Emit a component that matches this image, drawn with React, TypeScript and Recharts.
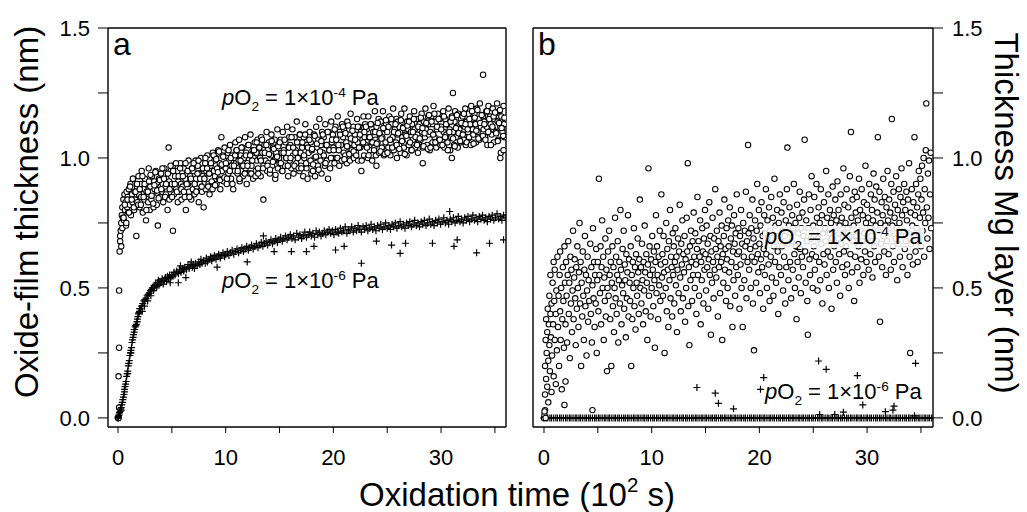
import React from "react";
import { ScatterChart, Scatter, XAxis, YAxis } from "recharts";

// tick values shared by both panels
const X_TICKS = [0, 5, 10, 15, 20, 25, 30, 35];
const X_LABELS = [0, 10, 20, 30];
const Y_TICKS = [0, 0.25, 0.5, 0.75, 1.0, 1.25, 1.5];
const Y_LABELS = [0, 0.5, 1.0, 1.5];

// panel a, pO2 = 1e-4 Pa (open circles)
const oxideHigh: number[][] = [
  [0,0.0],[0.05,0.0],[0.1,0.04],[0.05,0.16],[0.1,0.27],[0.1,0.49],[0.15,0.64],[0.2,0.68],[0.2,0.7],[0.25,0.72],[0.3,0.75],[0.3,0.66],[0.35,0.78],[0.4,0.73],[0.4,0.81],[0.45,0.77],
  [0.5,0.84],[0.55,0.76],[0.6,0.86],[0.65,0.8],[0.7,0.83],[0.75,0.74],[0.8,0.87],[0.85,0.81],[0.9,0.85],[0.95,0.79],
  [1.0,0.88],[1.1,0.82],[1.15,0.9],[1.2,0.78],[1.3,0.86],[1.35,0.83],[1.4,0.92],[1.5,0.8],[1.55,0.87],[1.6,0.84],[1.7,0.7],[1.75,0.89],[1.8,0.83],[1.9,0.93],[1.95,0.86],
  [2.0,0.81],[2.1,0.9],[2.15,0.85],[2.2,0.95],[2.3,0.79],[2.4,0.88],[2.45,0.84],[2.5,0.92],[2.6,0.76],[2.65,0.87],[2.7,0.9],[2.8,0.83],[2.85,0.96],[2.9,0.86],[2.95,0.8],
  [3.0,0.89],[3.1,0.84],[3.15,0.93],[3.2,0.87],[3.3,0.81],[3.35,0.91],[3.4,0.88],[3.5,0.95],[3.6,0.82],[3.65,0.9],[3.7,0.74],[3.75,0.86],[3.8,0.92],[3.9,0.85],[3.95,0.89],
  [4.0,0.94],[4.1,0.87],[4.15,0.9],[4.2,0.83],[4.3,0.96],[4.4,0.89],[4.45,0.86],[4.5,0.92],[4.6,0.8],[4.7,1.04],[4.75,0.91],[4.8,0.88],[4.9,0.95],[4.95,0.85],
  [5.0,0.9],[5.1,0.72],[5.1,0.97],[5.2,0.86],[5.3,0.93],[5.4,0.88],[5.5,0.95],[5.55,0.83],[5.6,0.91],[5.7,0.87],[5.8,0.98],[5.85,0.9],[5.9,0.84],[5.95,0.93],
  [6.0,0.89],[6.1,0.96],[6.2,0.85],[6.25,0.92],[6.3,0.8],[6.4,0.94],[6.5,0.9],[6.55,0.99],[6.6,0.87],[6.7,0.93],[6.8,0.84],[6.85,0.96],[6.9,0.91],[6.95,0.88],
  [7.0,0.95],[7.1,0.86],[7.2,0.99],[7.25,0.92],[7.3,0.89],[7.4,0.97],[7.5,0.83],[7.55,0.94],[7.6,0.9],[7.7,1.0],[7.8,0.87],[7.85,0.93],[7.9,0.96],[7.95,0.81],
  [8.0,0.92],[8.1,0.98],[8.15,0.88],[8.2,0.95],[8.3,1.01],[8.4,0.9],[8.45,0.94],[8.5,0.86],[8.6,0.97],[8.7,0.91],[8.8,1.02],[8.85,0.89],[8.9,0.95],[8.95,0.99],
  [9.0,0.93],[9.1,1.0],[9.15,0.9],[9.2,0.96],[9.3,1.03],[9.4,0.92],[9.45,0.98],[9.5,0.88],[9.6,1.08],[9.65,0.95],[9.7,1.01],[9.8,0.91],[9.85,0.97],[9.9,1.04],
  [10.0,0.96],[10.1,0.9],[10.2,1.02],[10.25,0.94],[10.3,0.99],[10.4,1.05],[10.5,0.92],[10.55,0.97],[10.6,1.01],[10.7,0.88],[10.8,1.0],[10.85,0.95],[10.9,1.06],[10.95,0.98],
  [11.0,1.03],[11.1,0.94],[11.2,0.99],[11.25,1.07],[11.3,0.91],[11.4,1.01],[11.5,0.97],[11.55,1.04],[11.6,0.93],[11.7,1.0],[11.8,1.08],[11.85,0.96],[11.9,1.02],[11.95,0.9],
  [12.0,0.98],[12.1,1.05],[12.2,0.94],[12.25,1.01],[12.3,1.09],[12.4,0.97],[12.5,1.03],[12.55,0.92],[12.6,1.0],[12.7,1.06],[12.8,0.95],[12.85,1.02],[12.9,0.99],[12.95,1.07],
  [13.0,0.96],[13.1,1.04],[13.2,1.0],[13.25,0.93],[13.3,1.08],[13.4,1.02],[13.5,0.84],[13.5,0.97],[13.6,1.05],[13.7,0.99],[13.8,1.1],[13.85,0.95],[13.9,1.03],[13.95,0.98],
  [14.0,1.06],[14.1,0.94],[14.2,1.01],[14.25,1.09],[14.3,0.97],[14.4,1.04],[14.5,0.99],[14.55,1.07],[14.6,0.92],[14.7,1.02],[14.8,1.11],[14.85,0.96],[14.9,1.05],[14.95,1.0],
  [15.0,0.98],[15.1,1.07],[15.2,1.02],[15.25,0.95],[15.3,1.1],[15.4,1.03],[15.5,0.97],[15.55,1.06],[15.6,1.0],[15.7,1.12],[15.8,0.93],[15.85,1.04],[15.9,1.08],[15.95,0.99],
  [16.0,1.05],[16.1,0.96],[16.2,1.11],[16.25,1.01],[16.3,0.94],[16.4,1.08],[16.5,1.03],[16.55,0.98],[16.6,1.14],[16.7,1.0],[16.8,1.06],[16.85,0.95],[16.9,1.09],[16.95,1.02],
  [17.0,0.97],[17.1,1.04],[17.2,0.93],[17.25,1.08],[17.3,1.0],[17.4,1.13],[17.5,0.96],[17.55,1.05],[17.6,0.92],[17.7,1.02],[17.8,1.1],[17.85,0.98],[17.9,1.06],[17.95,0.94],
  [18.0,1.03],[18.1,0.95],[18.2,1.09],[18.25,1.0],[18.3,0.93],[18.4,1.12],[18.5,1.04],[18.55,0.97],[18.6,1.07],[18.7,1.15],[18.8,0.99],[18.85,1.05],[18.9,0.94],[18.95,1.1],
  [19.0,1.02],[19.1,1.08],[19.2,0.97],[19.25,1.13],[19.3,1.05],[19.4,0.99],[19.5,0.92],[19.55,1.1],[19.6,1.03],[19.7,0.96],[19.8,1.14],[19.85,1.06],[19.9,1.0],[19.95,1.09],
  [20.0,1.04],[20.1,0.98],[20.2,1.12],[20.25,1.07],[20.3,1.0],[20.4,1.16],[20.5,1.03],[20.55,0.97],[20.6,1.1],[20.7,1.05],[20.8,1.13],[20.85,0.99],[20.9,1.08],[20.95,1.02],
  [21.0,1.11],[21.1,1.01],[21.2,1.06],[21.25,0.98],[21.3,1.14],[21.4,1.04],[21.5,1.09],[21.55,0.99],[21.6,1.17],[21.7,1.03],[21.8,1.07],[21.85,1.12],[21.9,1.0],[21.95,1.05],
  [22.0,1.09],[22.1,1.02],[22.2,1.15],[22.25,1.06],[22.3,0.99],[22.4,1.12],[22.5,1.04],[22.55,1.1],[22.6,0.95],[22.7,1.07],[22.8,1.16],[22.85,1.01],[22.9,1.08],[22.95,1.13],
  [23.0,1.05],[23.1,1.11],[23.2,1.0],[23.25,1.16],[23.3,1.08],[23.4,1.03],[23.5,1.13],[23.55,1.06],[23.6,0.99],[23.7,1.1],[23.8,1.04],[23.85,1.18],[23.9,1.07],[23.95,1.01],
  [24.0,0.97],[24.0,1.12],[24.1,1.06],[24.2,1.15],[24.25,1.02],[24.3,1.09],[24.4,1.14],[24.5,1.04],[24.55,1.08],[24.6,1.18],[24.7,1.01],[24.8,1.11],[24.85,1.06],[24.9,1.13],[24.95,1.03],
  [25.0,1.1],[25.1,1.04],[25.2,1.16],[25.25,1.07],[25.3,1.01],[25.4,1.13],[25.5,1.08],[25.55,1.19],[25.6,1.03],[25.7,1.11],[25.8,1.06],[25.85,1.15],[25.9,1.0],[25.95,1.09],
  [26.0,1.14],[26.1,1.05],[26.2,1.1],[26.25,1.02],[26.3,1.17],[26.4,1.08],[26.5,1.12],[26.55,1.04],[26.6,1.19],[26.7,1.09],[26.8,1.01],[26.85,1.14],[26.9,1.07],[26.95,1.11],
  [27.0,1.05],[27.1,1.16],[27.2,1.1],[27.25,1.03],[27.3,1.13],[27.4,1.07],[27.5,1.18],[27.55,1.11],[27.6,1.04],[27.7,1.15],[27.8,1.09],[27.85,1.02],[27.9,1.12],[27.95,1.06],
  [28.0,1.13],[28.1,1.07],[28.2,1.17],[28.25,1.1],[28.3,0.98],[28.3,1.04],[28.4,1.14],[28.5,1.08],[28.55,1.19],[28.6,1.11],[28.7,1.05],[28.8,1.16],[28.85,1.09],[28.9,1.13],[28.95,1.03],
  [29.0,1.1],[29.1,1.16],[29.2,1.06],[29.25,1.13],[29.3,1.2],[29.4,1.08],[29.5,1.14],[29.55,1.04],[29.6,1.11],[29.7,1.17],[29.8,1.07],[29.85,1.12],[29.9,1.15],[29.95,1.05],
  [30.0,1.12],[30.1,1.07],[30.2,1.18],[30.25,1.1],[30.3,1.04],[30.4,1.15],[30.5,1.09],[30.55,1.13],[30.6,1.06],[30.7,1.19],[30.8,1.11],[30.85,1.03],[30.9,1.14],[30.95,1.08],
  [31.0,1.0],[31.0,1.16],[31.1,1.25],[31.1,1.1],[31.2,1.05],[31.25,1.14],[31.3,1.18],[31.4,1.08],[31.5,1.12],[31.55,1.04],[31.6,1.17],[31.7,1.11],[31.8,1.06],[31.85,1.15],[31.9,1.09],[31.95,1.13],
  [32.0,1.16],[32.1,1.07],[32.2,1.12],[32.25,1.19],[32.3,1.05],[32.4,1.14],[32.5,1.1],[32.55,1.17],[32.6,1.08],[32.7,1.13],[32.8,1.2],[32.85,1.06],[32.9,1.15],[32.95,1.11],
  [33.0,1.09],[33.1,1.17],[33.2,1.13],[33.25,1.06],[33.3,1.19],[33.4,1.1],[33.5,1.15],[33.55,1.07],[33.6,1.21],[33.7,1.12],[33.8,1.08],[33.9,1.32],[33.9,1.16],[33.95,1.11],
  [34.0,1.14],[34.1,1.08],[34.2,1.18],[34.25,1.12],[34.3,1.05],[34.4,1.2],[34.5,1.1],[34.55,1.16],[34.6,1.13],[34.7,1.09],[34.8,1.19],[34.85,1.11],[34.9,1.06],[34.95,1.15],
  [35.0,1.17],[35.1,1.1],[35.2,1.21],[35.25,1.14],[35.3,1.07],[35.4,1.18],[35.5,1.12],[35.55,1.02],[35.6,1.16],[35.7,1.1],[35.8,1.2],[35.85,1.13],[35.9,1.08],[35.95,1.15],[35.5,1.0],[35.8,1.03],
];
// more circles of the same band, read between the ones above
const oxideHighFill: number[][] = [
  [0.52,0.77],[0.63,0.82],[0.77,0.75],[0.88,0.84],
  [1.02,0.79],[1.12,0.89],[1.27,0.84],[1.38,0.92],[1.47,0.81],[1.63,0.87],[1.77,0.9],[1.88,0.82],
  [2.02,0.88],[2.12,0.82],[2.27,0.93],[2.38,0.85],[2.47,0.9],[2.63,0.8],[2.77,0.87],[2.88,0.91],
  [3.02,0.935],[3.12,0.855],[3.27,0.825],[3.38,0.895],[3.47,0.945],[3.63,0.875],[3.77,0.845],[3.88,0.915],
  [4.02,0.88],[4.12,0.96],[4.27,0.92],[4.38,0.85],[4.47,0.9],[4.63,0.94],[4.77,0.84],[4.88,0.97],
  [5.02,0.85],[5.12,0.95],[5.27,0.9],[5.38,0.98],[5.47,0.87],[5.63,0.93],[5.77,0.96],[5.88,0.88],
  [6.02,0.93],[6.12,0.87],[6.27,0.98],[6.38,0.9],[6.47,0.95],[6.63,0.85],[6.77,0.92],[6.88,0.96],
  [7.02,0.98],[7.12,0.9],[7.27,0.87],[7.38,0.94],[7.47,0.99],[7.63,0.92],[7.77,0.89],[7.88,0.96],
  [8.02,0.92],[8.12,1.0],[8.27,0.96],[8.38,0.89],[8.47,0.94],[8.63,0.98],[8.77,0.88],[8.88,1.01],
  [9.02,0.895],[9.12,0.995],[9.27,0.945],[9.38,1.025],[9.47,0.915],[9.63,0.975],[9.77,1.005],[9.88,0.925],
  [10.02,0.98],[10.12,0.92],[10.27,1.03],[10.38,0.95],[10.47,1.0],[10.63,0.9],[10.77,0.97],[10.88,1.01],
  [11.02,1.03],[11.12,0.95],[11.27,0.92],[11.38,0.99],[11.47,1.04],[11.63,0.97],[11.77,0.94],[11.88,1.01],
  [12.02,0.97],[12.12,1.05],[12.27,1.01],[12.38,0.94],[12.47,0.99],[12.63,1.03],[12.77,0.93],[12.88,1.06],
  [13.02,0.94],[13.12,1.04],[13.27,0.99],[13.38,1.07],[13.47,0.96],[13.63,1.02],[13.77,1.05],[13.88,0.97],
  [14.02,1.015],[14.12,0.955],[14.27,1.065],[14.38,0.985],[14.47,1.035],[14.63,0.935],[14.77,1.005],[14.88,1.045],
  [15.02,1.06],[15.12,0.98],[15.27,0.95],[15.38,1.02],[15.47,1.07],[15.63,1.0],[15.77,0.97],[15.88,1.04],
  [16.02,1.0],[16.12,1.08],[16.27,1.04],[16.38,0.97],[16.47,1.02],[16.63,1.06],[16.77,0.96],[16.88,1.09],
  [17.02,0.96],[17.12,1.06],[17.27,1.01],[17.38,1.09],[17.47,0.98],[17.63,1.04],[17.77,1.07],[17.88,0.99],
  [18.02,1.035],[18.12,0.975],[18.27,1.085],[18.38,1.005],[18.47,1.055],[18.63,0.955],[18.77,1.025],[18.88,1.065],
  [19.02,1.09],[19.12,1.01],[19.27,0.98],[19.38,1.05],[19.47,1.1],[19.63,1.03],[19.77,1.0],[19.88,1.07],
  [20.02,1.03],[20.12,1.11],[20.27,1.07],[20.38,1.0],[20.47,1.05],[20.63,1.09],[20.77,0.99],[20.88,1.12],
  [21.02,0.995],[21.12,1.095],[21.27,1.045],[21.38,1.125],[21.47,1.015],[21.63,1.075],[21.77,1.105],[21.88,1.025],
  [22.02,1.07],[22.12,1.01],[22.27,1.12],[22.38,1.04],[22.47,1.09],[22.63,0.99],[22.77,1.06],[22.88,1.1],
  [23.02,1.12],[23.12,1.04],[23.27,1.01],[23.38,1.08],[23.47,1.13],[23.63,1.06],[23.77,1.03],[23.88,1.1],
  [24.02,1.055],[24.12,1.135],[24.27,1.095],[24.38,1.025],[24.47,1.075],[24.63,1.115],[24.77,1.015],[24.88,1.145],
  [25.02,1.02],[25.12,1.12],[25.27,1.07],[25.38,1.15],[25.47,1.04],[25.63,1.1],[25.77,1.13],[25.88,1.05],
  [26.02,1.095],[26.12,1.035],[26.27,1.145],[26.38,1.065],[26.47,1.115],[26.63,1.015],[26.77,1.085],[26.88,1.125],
  [27.02,1.14],[27.12,1.06],[27.27,1.03],[27.38,1.1],[27.47,1.15],[27.63,1.08],[27.77,1.05],[27.88,1.12],
  [28.02,1.075],[28.12,1.155],[28.27,1.115],[28.38,1.045],[28.47,1.095],[28.63,1.135],[28.77,1.035],[28.88,1.165],
  [29.02,1.04],[29.12,1.14],[29.27,1.09],[29.38,1.17],[29.47,1.06],[29.63,1.12],[29.77,1.15],[29.88,1.07],
  [30.02,1.11],[30.12,1.05],[30.27,1.16],[30.38,1.08],[30.47,1.13],[30.63,1.03],[30.77,1.1],[30.88,1.14],
  [31.02,1.155],[31.12,1.075],[31.27,1.045],[31.38,1.115],[31.47,1.165],[31.63,1.095],[31.77,1.065],[31.88,1.135],
  [32.02,1.09],[32.12,1.17],[32.27,1.13],[32.38,1.06],[32.47,1.11],[32.63,1.15],[32.77,1.05],[32.88,1.18],
  [33.02,1.055],[33.12,1.155],[33.27,1.105],[33.38,1.185],[33.47,1.075],[33.63,1.135],[33.77,1.165],[33.88,1.085],
  [34.02,1.13],[34.12,1.07],[34.27,1.18],[34.38,1.1],[34.47,1.15],[34.63,1.05],[34.77,1.12],[34.88,1.16],
  [35.02,1.175],[35.12,1.095],[35.27,1.065],[35.38,1.135],[35.47,1.185],[35.63,1.115],[35.77,1.085],[35.88,1.155],
];

// panel a, pO2 = 1e-6 Pa (crosses)
const oxideLow: number[][] = [
  [0,0],[0.02,0.005],[0.05,0.0],[0.08,0.01],[0.1,0.015],[0.15,0.02],[0.2,0.025],[0.25,0.035],[0.3,0.04],[0.35,0.05],[0.4,0.06],[0.45,0.07],[0.5,0.08],[0.55,0.09],[0.6,0.1],[0.65,0.12],[0.7,0.13],[0.75,0.14],[0.8,0.16],[0.85,0.17],[0.9,0.18],[0.95,0.2],
  [1.0,0.21],[1.05,0.22],[1.1,0.24],[1.15,0.25],[1.2,0.26],[1.25,0.27],[1.3,0.29],[1.35,0.3],[1.4,0.31],[1.45,0.32],[1.5,0.33],[1.55,0.34],[1.6,0.35],[1.65,0.355],[1.7,0.36],[1.75,0.37],[1.8,0.38],[1.85,0.39],[1.9,0.4],[1.95,0.405],[2.0,0.41],
  [0.3,0.03],[0.6,0.11],[0.9,0.17],[1.2,0.25],[1.5,0.34],[1.8,0.37],[2.0,0.42],
  [2.1,0.42],[2.2,0.43],[2.25,0.41],[2.3,0.44],[2.4,0.45],[2.45,0.43],[2.5,0.455],[2.6,0.46],[2.7,0.47],[2.75,0.45],[2.8,0.475],[2.9,0.48],[3.0,0.49],[3.05,0.47],[3.1,0.495],[3.2,0.5],[3.3,0.49],[3.35,0.51],[3.4,0.5],[3.5,0.515],[3.6,0.505],[3.7,0.52],[3.75,0.53],[3.8,0.51],[3.9,0.525],[4.0,0.52],[4.1,0.535],[4.2,0.515],[4.3,0.53],[4.4,0.54],[4.5,0.525],[4.6,0.545],[4.7,0.535],[4.8,0.55],[4.85,0.52],[4.9,0.54],[5.0,0.55],
  [5.1,0.545],[5.2,0.56],[5.3,0.55],[5.45,0.565],[5.6,0.555],[5.7,0.57],[5.8,0.585],[5.85,0.56],[6.0,0.575],[6.1,0.565],[6.2,0.58],[6.35,0.57],[6.5,0.59],[6.6,0.575],[6.7,0.585],[6.8,0.6],[6.9,0.58],[7.0,0.59],[7.1,0.575],[7.2,0.595],[7.35,0.585],[7.5,0.6],[7.6,0.59],[7.7,0.61],[7.8,0.595],[7.95,0.605],[8.1,0.595],[8.2,0.615],[8.3,0.6],[8.45,0.61],[8.6,0.62],[8.7,0.605],[8.8,0.615],[8.95,0.625],[9.1,0.61],[9.2,0.62],[9.35,0.63],[9.5,0.615],[9.6,0.625],[9.75,0.635],[9.9,0.62],
  [10.0,0.63],[10.15,0.64],[10.3,0.625],[10.45,0.635],[10.6,0.645],[10.75,0.63],[10.9,0.64],[11.05,0.65],[11.2,0.635],[11.35,0.645],[11.5,0.655],[11.65,0.64],[11.8,0.65],[11.95,0.66],[12.1,0.645],[12.25,0.655],[12.4,0.665],[12.55,0.65],[12.7,0.66],[12.85,0.67],[13.0,0.655],[13.15,0.665],[13.3,0.675],[13.45,0.66],[13.6,0.67],[13.75,0.68],[13.9,0.665],[14.05,0.675],[14.2,0.685],[14.35,0.67],[14.5,0.68],[14.65,0.69],[14.8,0.675],[14.95,0.685],
  [15.1,0.695],[15.25,0.68],[15.4,0.69],[15.55,0.7],[15.7,0.685],[15.85,0.695],[16.0,0.705],[16.15,0.69],[16.3,0.7],[16.45,0.685],[16.6,0.71],[16.75,0.695],[16.9,0.705],[17.05,0.69],[17.2,0.7],[17.35,0.715],[17.5,0.695],[17.65,0.705],[17.8,0.715],[17.95,0.7],[18.1,0.71],[18.25,0.695],[18.4,0.72],[18.55,0.705],[18.7,0.715],[18.85,0.7],[19.0,0.71],[19.15,0.72],[19.3,0.705],[19.45,0.715],[19.6,0.725],[19.75,0.71],[19.9,0.72],
  [20.05,0.705],[20.2,0.725],[20.35,0.715],[20.5,0.71],[20.65,0.73],[20.8,0.715],[20.95,0.72],[21.1,0.735],[21.25,0.71],[21.4,0.725],[21.55,0.72],[21.7,0.735],[21.85,0.715],[22.0,0.73],[22.15,0.72],[22.3,0.74],[22.45,0.725],[22.6,0.715],[22.75,0.735],[22.9,0.725],[23.05,0.74],[23.2,0.72],[23.35,0.73],[23.5,0.745],[23.65,0.725],[23.8,0.735],[23.95,0.72],[24.1,0.74],[24.25,0.73],[24.4,0.745],[24.55,0.725],[24.7,0.735],[24.85,0.75],
  [25.0,0.73],[25.15,0.74],[25.3,0.725],[25.45,0.745],[25.6,0.735],[25.75,0.75],[25.9,0.73],[26.05,0.74],[26.2,0.755],[26.35,0.735],[26.5,0.745],[26.65,0.73],[26.8,0.75],[26.95,0.74],[27.1,0.755],[27.25,0.735],[27.4,0.745],[27.55,0.76],[27.7,0.74],[27.85,0.75],[28.0,0.735],[28.15,0.755],[28.3,0.745],[28.45,0.76],[28.6,0.74],[28.75,0.75],[28.9,0.765],[29.05,0.745],[29.2,0.755],[29.35,0.74],[29.5,0.76],[29.65,0.75],[29.8,0.765],[29.95,0.745],
  [30.1,0.755],[30.25,0.77],[30.4,0.75],[30.55,0.76],[30.7,0.745],[30.85,0.765],[31.0,0.755],[31.15,0.77],[31.3,0.75],[31.45,0.76],[31.6,0.775],[31.75,0.755],[31.9,0.765],[32.05,0.75],[32.2,0.77],[32.35,0.76],[32.5,0.775],[32.65,0.755],[32.8,0.765],[32.95,0.78],[33.1,0.76],[33.25,0.77],[33.4,0.755],[33.55,0.775],[33.7,0.765],[33.85,0.78],[34.0,0.76],[34.15,0.77],[34.3,0.755],[34.45,0.775],[34.6,0.765],[34.75,0.78],[34.9,0.76],[35.05,0.77],[35.2,0.785],[35.35,0.765],[35.5,0.775],[35.65,0.76],[35.8,0.78],[35.95,0.77],
  [5.6,0.52],[6.3,0.54],[9.2,0.58],[12.0,0.6],[14.5,0.64],[16.1,0.64],[17.5,0.64],[18.2,0.66],[20.2,0.646],[21.0,0.66],[22.6,0.595],[25.4,0.665],[26.2,0.633],[26.7,0.672],[29.2,0.672],[31.2,0.66],[31.5,0.685],[33.3,0.635],[34.5,0.672],[35.8,0.685],[30.8,0.794],[13.5,0.7],[24.0,0.68],
];

// panel b, pO2 = 1e-4 Pa (open circles)
const mgHigh: number[][] = [
  [0,0.0],[0.05,0.01],[0.1,0.03],[0.05,0.025],[0.15,0.0],[4.5,0.03],
  [0.1,0.09],[0.1,0.2],[0.15,0.3],[0.2,0.15],[0.2,0.38],[0.25,0.25],[0.3,0.12],[0.3,0.33],[0.35,0.42],[0.4,0.22],[0.4,0.06],[0.45,0.36],[0.5,0.28],[0.5,0.47],[0.55,0.18],[0.6,0.4],[0.6,0.55],[0.65,0.31],[0.7,0.1],[0.7,0.44],[0.75,0.24],[0.8,0.52],[0.85,0.36],[0.9,0.6],[0.9,0.16],[0.95,0.45],
  [1.0,0.3],[1.0,0.57],[1.1,0.4],[1.1,0.13],[1.15,0.49],[1.2,0.26],[1.25,0.62],[1.3,0.35],[1.35,0.47],[1.4,0.2],[1.45,0.55],[1.5,0.41],[1.5,0.64],[1.55,0.3],[1.6,0.5],[1.65,0.11],[1.7,0.38],[1.75,0.58],[1.8,0.45],[1.85,0.27],[1.9,0.66],[1.95,0.52],[1.9,0.05],[2.0,0.14],
  [2.0,0.36],[2.05,0.6],[2.1,0.47],[2.15,0.29],[2.2,0.55],[2.25,0.68],[2.3,0.4],[2.35,0.52],[2.4,0.23],[2.45,0.62],[2.5,0.44],[2.55,0.57],[2.6,0.33],[2.65,0.49],[2.7,0.72],[2.75,0.38],[2.8,0.54],[2.85,0.61],[2.9,0.46],[2.95,0.28],
  [3.0,0.58],[3.05,0.42],[3.1,0.66],[3.15,0.5],[3.2,0.35],[3.25,0.56],[3.3,0.75],[3.35,0.44],[3.4,0.6],[3.45,0.2],[3.5,0.52],[3.55,0.39],[3.6,0.64],[3.65,0.47],[3.7,0.3],[3.75,0.57],[3.8,0.7],[3.85,0.43],[3.9,0.55],[3.95,0.24],
  [4.0,0.49],[4.05,0.62],[4.1,0.37],[4.15,0.53],[4.2,0.45],[4.3,0.67],[4.35,0.4],[4.4,0.58],[4.45,0.29],[4.5,0.51],[4.55,0.73],[4.6,0.46],[4.65,0.6],[4.7,0.35],[4.75,0.55],[4.8,0.44],[4.85,0.65],[4.9,0.25],[4.95,0.53],
  [5.0,0.6],[5.05,0.41],[5.1,0.92],[5.15,0.55],[5.2,0.48],[5.25,0.66],[5.3,0.36],[5.35,0.58],[5.4,0.76],[5.45,0.5],[5.5,0.62],[5.55,0.3],[5.6,0.54],[5.65,0.45],[5.7,0.69],[5.75,0.39],[5.8,0.57],[5.85,0.18],[5.9,0.5],[5.95,0.64],
  [6.0,0.47],[6.05,0.72],[6.1,0.55],[6.15,0.38],[6.2,0.6],[6.25,0.2],[6.3,0.52],[6.35,0.66],[6.4,0.43],[6.45,0.58],[6.5,0.33],[6.55,0.5],[6.6,0.77],[6.65,0.46],[6.7,0.62],[6.75,0.4],[6.8,0.55],[6.85,0.68],[6.9,0.29],[6.95,0.53],
  [7.0,0.6],[7.05,0.44],[7.1,0.8],[7.15,0.57],[7.2,0.36],[7.25,0.51],[7.3,0.65],[7.35,0.48],[7.4,0.72],[7.45,0.42],[7.5,0.59],[7.55,0.53],[7.6,0.31],[7.65,0.63],[7.7,0.46],[7.75,0.56],[7.8,0.78],[7.85,0.39],[7.9,0.61],[7.95,0.52],
  [8.0,0.45],[8.05,0.66],[8.1,0.2],[8.15,0.55],[8.2,0.38],[8.25,0.6],[8.3,0.5],[8.35,0.73],[8.4,0.43],[8.45,0.58],[8.5,0.34],[8.55,0.63],[8.6,0.52],[8.65,0.47],[8.7,0.69],[8.75,0.56],[8.8,0.4],[8.85,0.61],[8.9,0.84],[8.95,0.5],
  [9.0,0.58],[9.05,0.44],[9.1,0.67],[9.15,0.53],[9.2,0.36],[9.25,0.6],[9.3,0.49],[9.35,0.74],[9.4,0.56],[9.45,0.41],[9.5,0.63],[9.55,0.52],[9.6,0.3],[9.65,0.59],[9.7,0.96],[9.75,0.47],[9.8,0.66],[9.85,0.55],[9.9,0.39],[9.95,0.61],
  [10.0,0.5],[10.05,0.7],[10.1,0.57],[10.15,0.43],[10.2,0.64],[10.25,0.53],[10.3,0.27],[10.35,0.6],[10.4,0.78],[10.45,0.48],[10.5,0.66],[10.55,0.55],[10.6,0.38],[10.65,0.62],[10.7,0.51],[10.75,0.72],[10.8,0.45],[10.85,0.59],[10.9,0.86],[10.95,0.54],
  [11.0,0.63],[11.05,0.47],[11.1,0.7],[11.15,0.56],[11.2,0.25],[11.25,0.6],[11.3,0.5],[11.35,0.75],[11.4,0.41],[11.45,0.65],[11.5,0.57],[11.55,0.35],[11.6,0.68],[11.65,0.53],[11.7,0.8],[11.75,0.46],[11.8,0.62],[11.85,0.58],[11.9,0.39],[11.95,0.71],
  [12.0,0.55],[12.05,0.66],[12.1,0.44],[12.15,0.6],[12.2,0.73],[12.25,0.51],[12.3,0.62],[12.35,0.33],[12.4,0.57],[12.45,0.69],[12.5,0.48],[12.55,0.64],[12.6,0.82],[12.65,0.54],[12.7,0.41],[12.75,0.67],[12.8,0.59],[12.85,0.76],[12.9,0.46],[12.95,0.63],
  [13.0,0.56],[13.05,0.7],[13.1,0.37],[13.15,0.61],[13.2,0.5],[13.25,0.77],[13.3,0.64],[13.35,0.98],[13.4,0.43],[13.45,0.58],[13.5,0.28],[13.55,0.66],[13.6,0.53],[13.65,0.72],[13.7,0.6],[13.75,0.45],[13.8,0.68],[13.85,0.55],[13.9,0.79],[13.95,0.62],
  [14.0,0.5],[14.05,0.71],[14.1,0.59],[14.15,0.4],[14.2,0.65],[14.25,0.85],[14.3,0.55],[14.35,0.68],[14.4,0.47],[14.45,0.62],[14.5,0.76],[14.55,0.36],[14.6,0.6],[14.65,0.53],[14.7,0.73],[14.75,0.64],[14.8,0.44],[14.85,0.69],[14.9,0.57],[14.95,0.8],
  [15.0,0.63],[15.05,0.49],[15.1,0.74],[15.15,0.58],[15.2,0.67],[15.25,0.42],[15.3,0.61],[15.35,0.83],[15.4,0.55],[15.45,0.7],[15.5,0.32],[15.55,0.64],[15.6,0.52],[15.65,0.77],[15.7,0.6],[15.75,0.46],[15.8,0.69],[15.85,0.57],[15.9,0.88],[15.95,0.65],
  [16.0,0.54],[16.05,0.72],[16.1,0.62],[16.15,0.39],[16.2,0.68],[16.25,0.58],[16.3,0.79],[16.35,0.48],[16.4,0.66],[16.45,0.6],[16.5,0.74],[16.55,0.3],[16.6,0.63],[16.65,0.52],[16.7,0.7],[16.75,0.84],[16.8,0.57],[16.85,0.65],[16.9,0.45],[16.95,0.73],
  [17.0,0.61],[17.05,0.5],[17.1,0.76],[17.15,0.66],[17.2,0.56],[17.25,0.81],[17.3,0.43],[17.35,0.69],[17.4,0.6],[17.45,0.74],[17.5,0.35],[17.55,0.64],[17.6,0.53],[17.65,0.78],[17.7,0.67],[17.75,0.47],[17.8,0.71],[17.85,0.58],[17.9,0.86],[17.95,0.63],
  [18.0,0.55],[18.05,0.73],[18.1,0.64],[18.15,0.42],[18.2,0.7],[18.25,0.59],[18.3,0.8],[18.35,0.5],[18.4,0.67],[18.45,0.35],[18.5,0.75],[18.55,0.62],[18.6,0.53],[18.65,0.72],[18.7,0.66],[18.75,0.87],[18.8,0.46],[18.85,0.68],[18.9,0.6],[18.95,1.05],
  [19.0,0.71],[19.05,0.57],[19.1,0.78],[19.15,0.65],[19.2,0.5],[19.25,0.73],[19.3,0.62],[19.35,0.84],[19.4,0.44],[19.45,0.69],[19.5,0.26],[19.55,0.6],[19.6,0.76],[19.65,0.66],[19.7,0.52],[19.75,0.72],[19.8,0.9],[19.85,0.63],[19.9,0.56],[19.95,0.8],
  [20.0,0.67],[20.05,0.48],[20.1,0.74],[20.15,0.61],[20.2,0.83],[20.25,0.58],[20.3,0.7],[20.35,0.42],[20.4,0.65],[20.45,0.78],[20.5,0.55],[20.55,0.71],[20.6,0.88],[20.65,0.63],[20.7,0.5],[20.75,0.76],[20.8,0.68],[20.85,0.59],[20.9,0.81],[20.95,0.45],
  [21.0,0.72],[21.05,0.62],[21.1,0.85],[21.15,0.54],[21.2,0.69],[21.25,0.77],[21.3,0.47],[21.35,0.66],[21.4,0.92],[21.45,0.6],[21.5,0.74],[21.55,0.52],[21.6,0.7],[21.65,0.8],[21.7,0.64],[21.75,0.4],[21.8,0.75],[21.85,0.58],[21.9,0.86],[21.95,0.68],
  [22.0,0.55],[22.05,0.79],[22.1,0.66],[22.15,0.72],[22.2,0.49],[22.25,0.83],[22.3,0.62],[22.35,0.7],[22.4,0.44],[22.45,0.76],[22.5,0.58],[22.55,0.88],[22.6,1.04],[22.65,0.67],[22.7,0.53],[22.75,0.74],[22.8,0.81],[22.85,0.6],[22.9,0.71],[22.95,0.46],
  [23.0,0.68],[23.05,0.78],[23.1,0.57],[23.15,0.73],[23.2,0.9],[23.25,0.63],[23.3,0.5],[23.35,0.75],[23.4,0.66],[23.45,0.38],[23.5,0.82],[23.55,0.6],[23.6,0.71],[23.65,0.54],[23.7,0.77],[23.75,0.87],[23.8,0.65],[23.85,0.48],[23.9,0.73],[23.95,0.62],
  [24.0,0.79],[24.05,0.58],[24.1,0.7],[24.15,0.84],[24.2,1.07],[24.25,0.64],[24.3,0.52],[24.35,0.76],[24.4,0.68],[24.45,0.45],[24.5,0.32],[24.55,0.73],[24.6,0.86],[24.65,0.61],[24.7,0.55],[24.75,0.8],[24.8,0.69],[24.85,0.93],[24.9,0.63],[24.95,0.5],
  [25.0,0.74],[25.05,0.66],[25.1,0.85],[25.15,0.57],[25.2,0.72],[25.25,0.62],[25.3,0.9],[25.35,0.77],[25.4,0.49],[25.45,0.69],[25.5,0.81],[25.55,0.6],[25.6,0.75],[25.65,0.53],[25.7,0.88],[25.75,0.67],[25.8,0.78],[25.85,0.44],[25.9,0.71],[25.95,0.63],
  [26.0,0.83],[26.05,0.59],[26.1,0.73],[26.15,0.68],[26.2,0.95],[26.25,0.55],[26.3,0.77],[26.35,0.64],[26.4,0.86],[26.45,0.5],[26.5,0.71],[26.55,0.8],[26.6,0.62],[26.65,0.75],[26.7,0.42],[26.75,0.69],[26.8,0.89],[26.85,0.57],[26.9,0.78],[26.95,0.66],
  [27.0,0.72],[27.05,0.84],[27.1,0.6],[27.15,0.76],[27.2,0.52],[27.25,0.91],[27.3,0.69],[27.35,0.8],[27.4,0.63],[27.45,0.74],[27.5,0.47],[27.55,0.86],[27.6,0.67],[27.65,0.77],[27.7,0.58],[27.75,0.71],[27.8,0.96],[27.85,0.64],[27.9,0.82],[27.95,0.55],
  [28.0,0.75],[28.05,0.66],[28.1,0.88],[28.15,0.59],[28.2,0.73],[28.25,0.81],[28.3,0.5],[28.35,0.7],[28.4,0.93],[28.45,0.63],[28.5,1.1],[28.55,0.77],[28.6,0.56],[28.65,0.84],[28.7,0.68],[28.75,0.74],[28.8,0.45],[28.85,0.87],[28.9,0.62],[28.95,0.79],
  [29.0,0.7],[29.05,0.85],[29.1,0.58],[29.15,0.76],[29.2,0.66],[29.25,0.92],[29.3,0.52],[29.35,0.8],[29.4,0.72],[29.45,0.61],[29.5,0.88],[29.55,0.68],[29.6,0.78],[29.65,0.55],[29.7,0.83],[29.75,0.71],[29.8,0.64],[29.85,0.97],[29.9,0.75],[29.95,0.6],
  [30.0,0.82],[30.05,0.69],[30.1,0.77],[30.15,0.57],[30.2,0.9],[30.25,0.73],[30.3,0.63],[30.35,0.86],[30.4,0.7],[30.45,0.8],[30.5,0.54],[30.55,0.76],[30.6,0.94],[30.65,0.66],[30.7,0.84],[30.75,0.6],[30.8,0.74],[30.85,0.89],[30.9,0.68],[30.95,0.79],
  [31.0,1.08],[31.05,0.72],[31.1,0.62],[31.15,0.87],[31.2,0.37],[31.25,0.75],[31.3,0.67],[31.35,0.83],[31.4,0.58],[31.45,0.78],[31.5,0.92],[31.55,0.7],[31.6,0.64],[31.65,0.85],[31.7,0.74],[31.75,0.55],[31.8,0.81],[31.85,0.68],[31.9,0.95],[31.95,0.76],
  [32.0,0.63],[32.05,0.84],[32.1,0.71],[32.15,0.79],[32.2,0.57],[32.25,0.9],[32.3,1.15],[32.35,0.74],[32.4,0.66],[32.45,0.87],[32.5,0.6],[32.55,0.77],[32.6,0.82],[32.65,0.69],[32.7,0.93],[32.75,0.73],[32.8,0.53],[32.85,0.8],[32.9,0.67],[32.95,0.88],
  [33.0,0.75],[33.05,0.62],[33.1,0.85],[33.15,0.7],[33.2,0.96],[33.25,0.78],[33.3,0.58],[33.35,0.83],[33.4,0.72],[33.45,0.9],[33.5,0.65],[33.55,0.8],[33.6,0.68],[33.65,0.87],[33.7,0.76],[33.75,0.55],[33.8,0.84],[33.85,0.71],[33.9,0.98],[33.95,0.62],
  [34.0,0.25],[34.05,0.79],[34.1,0.67],[34.15,0.88],[34.2,0.74],[34.25,0.59],[34.3,0.83],[34.35,0.7],[34.4,1.08],[34.45,0.78],[34.5,0.64],[34.55,0.9],[34.6,0.73],[34.65,0.81],[34.7,0.6],[34.75,0.86],[34.8,0.95],[34.85,0.68],[34.9,0.77],[34.95,0.92],
  [35.0,0.66],[35.05,0.84],[35.1,0.97],[35.15,0.72],[35.2,0.79],[35.25,1.0],[35.3,0.62],[35.35,0.88],[35.4,0.75],[35.45,1.03],[35.5,1.21],[35.55,0.81],[35.6,0.69],[35.65,0.94],[35.7,0.77],[35.75,0.99],[35.8,0.65],[35.85,0.86],[35.9,1.02],[35.95,0.73],
];

// panel b, pO2 = 1e-6 Pa: the row of crosses sitting on zero...
const mgLowZeroX: number[] = [
  0,0.2,0.35,0.55,0.7,0.9,1.1,1.25,1.45,1.6,1.8,2.0,2.15,2.35,2.5,2.7,2.9,3.05,3.25,3.4,3.6,3.8,3.95,4.15,4.3,4.5,4.7,4.85,5.05,5.2,5.4,5.6,5.75,5.95,6.1,6.3,6.5,6.65,6.85,7.0,
  7.2,7.4,7.55,7.75,7.9,8.1,8.3,8.45,8.65,8.8,9.0,9.2,9.35,9.55,9.7,9.9,10.1,10.25,10.45,10.6,10.8,11.0,11.15,11.35,11.5,11.7,11.9,12.05,12.25,12.4,12.6,12.8,12.95,13.15,13.3,13.5,
  13.7,13.85,14.05,14.2,14.4,14.6,14.75,14.95,15.1,15.3,15.5,15.65,15.85,16.0,16.2,16.4,16.55,16.75,16.9,17.1,17.3,17.45,17.65,17.8,18.0,18.2,18.35,18.55,18.7,18.9,19.1,19.25,
  19.45,19.6,19.8,20.0,20.15,20.35,20.5,20.7,20.9,21.05,21.25,21.4,21.6,21.8,21.95,22.15,22.3,22.5,22.7,22.85,23.05,23.2,23.4,23.6,23.75,23.95,24.1,24.3,24.5,24.65,24.85,25.0,
  25.2,25.4,25.55,25.75,25.9,26.1,26.3,26.45,26.65,26.8,27.0,27.2,27.35,27.55,27.7,27.9,28.1,28.25,28.45,28.6,28.8,29.0,29.15,29.35,29.5,29.7,29.9,30.05,30.25,30.4,30.6,30.8,
  30.95,31.15,31.3,31.5,31.7,31.85,32.05,32.2,32.4,32.6,32.75,32.95,33.1,33.3,33.5,33.65,33.85,34.0,34.2,34.4,34.55,34.75,34.9,35.1,35.3,35.45,35.65,35.8,36.0,
];
// ...and the few crosses above it
const mgLowScatter: number[][] = [
  [14.2,0.117],[15.9,0.095],[16.2,0.056],[17.6,0.035],[20.1,0.11],[20.4,0.155],[25.5,0.219],[26.2,0.187],[29.1,0.163],[34.5,0.21],
  [31.7,0.024],[32.4,0.03],[32.5,0.045],[27.8,0.022],[27.0,0.013],[25.6,0.013],[29.6,0.05],[34.4,0.008],
];

const toPts = (arr: number[][]) => arr.map(([x, y]) => ({ x, y }));
const mgLow = [...mgLowZeroX.map((x) => ({ x, y: 0 })), ...toPts(mgLowScatter)];

const FONT = "'Liberation Sans', Arial, Helvetica, sans-serif";
const INK = "#000";

const fmtX = (v: number) => (X_LABELS.includes(v) ? String(v) : "");
const fmtY = (v: number) => (Y_LABELS.includes(v) ? v.toFixed(1) : "");

const Ring = (p: any) => <circle cx={p.cx} cy={p.cy} r={2.7} fill="#fff" stroke={INK} strokeWidth={1.05} />;
const Cross = (p: any) => (
  <path d={`M${p.cx - 3.5},${p.cy}h7M${p.cx},${p.cy - 3.5}v7`} stroke={INK} strokeWidth={1.2} fill="none" />
);

const Y_DOMAIN: [number, number] = [-0.035, 1.5];
const frameLine = { stroke: INK, strokeWidth: 1.4 };
const tickText = { fill: INK, fontSize: 22, fontFamily: FONT };

function Pressure({ exp }: { exp: string }) {
  const small = { fontSize: "0.62em", position: "relative" as const, lineHeight: 0 };
  return (
    <span>
      <i>p</i>O<span style={{ ...small, top: "0.45em" }}>2</span> = 1×10
      <span style={{ ...small, top: "-0.6em" }}>{exp}</span> Pa
    </span>
  );
}

const abs = (left: number, top: number, extra: React.CSSProperties = {}): React.CSSProperties => ({
  position: "absolute",
  left,
  top,
  whiteSpace: "nowrap",
  ...extra,
});

export default function App() {
  return (
    <div style={{ position: "absolute", left: 0, top: 0, width: 1027, height: 512, background: "#fff", fontFamily: FONT, color: INK }}>
      {/* panel a: plot frame 108..506 x 28..427 (mirrored axes take no room) */}
      <div style={abs(0, 0)}>
        <ScatterChart width={1027} height={512} margin={{ top: 18, right: 521, bottom: 45, left: 48 }}>
          <XAxis xAxisId="b" dataKey="x" type="number" domain={[-0.93, 36.03]} allowDataOverflow ticks={X_TICKS} interval={0}
            tickFormatter={fmtX} height={40} tickSize={6} tickMargin={16} axisLine={frameLine} tickLine={{ stroke: INK }} tick={tickText} />
          <XAxis xAxisId="t" orientation="top" dataKey="x" type="number" domain={[-0.93, 36.03]} allowDataOverflow ticks={X_TICKS} interval={0}
            height={10} tick={false} tickLine={false} axisLine={frameLine} />
          <YAxis yAxisId="l" dataKey="y" type="number" domain={Y_DOMAIN} allowDataOverflow ticks={Y_TICKS} interval={0}
            tickFormatter={fmtY} width={60} tickSize={10} tickMargin={8} axisLine={frameLine} tickLine={{ stroke: INK }} tick={tickText} />
          <YAxis yAxisId="r" orientation="right" dataKey="y" type="number" domain={Y_DOMAIN} allowDataOverflow ticks={Y_TICKS} interval={0}
            width={10} mirror tickSize={4} tick={false} axisLine={frameLine} tickLine={{ stroke: INK }} />
          <Scatter xAxisId="b" yAxisId="l" data={toPts(oxideHigh)} shape={Ring} isAnimationActive={false} />
          <Scatter xAxisId="b" yAxisId="l" data={toPts(oxideHighFill)} shape={Ring} isAnimationActive={false} />
          <Scatter xAxisId="b" yAxisId="l" data={toPts(oxideLow)} shape={Cross} isAnimationActive={false} />
        </ScatterChart>
      </div>

      {/* panel b: plot frame 533..933 x 28..427 */}
      <div style={abs(0, 0)}>
        <ScatterChart width={1027} height={512} margin={{ top: 28, right: 34, bottom: 45, left: 533 }}>
          <XAxis xAxisId="b" dataKey="x" type="number" domain={[-1.02, 36.12]} allowDataOverflow ticks={X_TICKS} interval={0}
            tickFormatter={fmtX} height={40} tickSize={6} tickMargin={16} axisLine={frameLine} tickLine={{ stroke: INK }} tick={tickText} />
          <XAxis xAxisId="t" orientation="top" dataKey="x" type="number" domain={[-1.02, 36.12]} allowDataOverflow ticks={X_TICKS} interval={0}
            height={10} mirror tickSize={4} tick={false} axisLine={frameLine} tickLine={{ stroke: INK }} />
          <YAxis yAxisId="l" dataKey="y" type="number" domain={Y_DOMAIN} allowDataOverflow ticks={Y_TICKS} interval={0}
            width={10} mirror tickSize={4} tick={false} axisLine={frameLine} tickLine={{ stroke: INK }} />
          <YAxis yAxisId="r" orientation="right" dataKey="y" type="number" domain={Y_DOMAIN} allowDataOverflow ticks={Y_TICKS} interval={0}
            tickFormatter={fmtY} width={60} tickSize={10} tickMargin={9} axisLine={frameLine} tickLine={{ stroke: INK }} tick={tickText} />
          <Scatter xAxisId="b" yAxisId="r" data={mgLow} shape={Cross} isAnimationActive={false} />
          <Scatter xAxisId="b" yAxisId="r" data={toPts(mgHigh)} shape={Ring} isAnimationActive={false} />
        </ScatterChart>
      </div>

      {/* panel letters */}
      <div style={abs(113, 28, { fontSize: 32, lineHeight: "32px" })}>a</div>
      <div style={abs(538, 28, { fontSize: 32, lineHeight: "32px" })}>b</div>

      {/* condition labels */}
      <div style={abs(222, 87, { fontSize: 22, lineHeight: "22px" })}><Pressure exp="-4" /></div>
      <div style={abs(222, 270, { fontSize: 22, lineHeight: "22px" })}><Pressure exp="-6" /></div>
      <div style={abs(763, 226, { fontSize: 22, lineHeight: "22px", background: "rgba(255,255,255,0.85)", padding: "0 2px" })}><Pressure exp="-4" /></div>
      <div style={abs(765, 381, { fontSize: 22, lineHeight: "22px" })}><Pressure exp="-6" /></div>

      {/* axis titles */}
      <div style={abs(517, 478, { fontSize: 33, lineHeight: "33px", transform: "translateX(-50%)" })}>
        Oxidation time (10<span style={{ fontSize: "0.62em", position: "relative", top: "-0.7em", lineHeight: 0 }}>2</span> s)
      </div>
      <div style={abs(26, 212, { fontSize: 33, lineHeight: "33px", transform: "translate(-50%, -50%) rotate(-90deg)" })}>
        Oxide-film thickness (nm)
      </div>
      <div style={abs(1006, 213, { fontSize: 33, lineHeight: "33px", transform: "translate(-50%, -50%) rotate(90deg)" })}>
        Thickness Mg layer (nm)
      </div>
    </div>
  );
}
